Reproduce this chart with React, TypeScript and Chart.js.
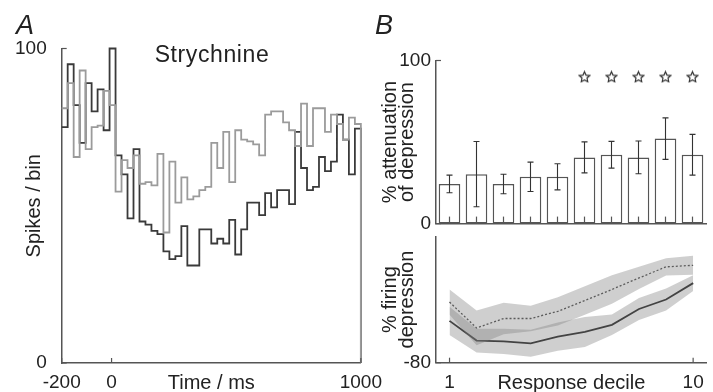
import React, { useEffect, useRef } from 'react';
import { Chart, registerables } from 'chart.js';

Chart.register(...registerables);

const FONT = '"Liberation Sans", Arial, Helvetica, sans-serif';
const TEXT = '#222';
const AXIS = '#555';

// ---------- Panel A: peri-stimulus histograms ----------
const HIST_START_MS = -200;
const HIST_END_MS = 1000;
const HIST_BIN_MS = 24;
const A_X_TICKS_SHOWN = [-200, 0, 1000];
const A_Y_TICKS_SHOWN = [0, 100];
const CONTROL_HIST = [
  75, 95, 82, 70, 89, 80, 87, 74, 100, 66,
  60, 46, 68, 45, 44, 42, 41, 35.5, 33, 34,
  43.5, 31, 31, 42.5, 42.5, 38, 39.5, 38, 45.5, 34.5,
  42.5, 51, 51, 47, 54, 49.5, 55, 55, 50.5, 73.5,
  62, 55, 56, 65.5, 61, 64, 79, 71, 60, 74.5,
];
const STRYCHNINE_HIST = [
  81, 89, 65.5, 93, 68, 75, 75.5, 86.5, 82, 54.5,
  64.5, 62, 66, 57, 57.5, 56.5, 66.5, 41.5, 64, 51,
  59, 52, 53, 55, 56, 70, 62, 73.5, 57.5, 74,
  71, 70.5, 69.5, 66, 79, 80, 80, 76.5, 74, 69,
  82.5, 69, 81, 81, 73.5, 79, 76, 71, 78, 76,
];

// ---------- Panel B ----------
const DECILES = ['1', '2', '3', '4', '5', '6', '7', '8', '9', '10'];
const DECILE_LABELS_SHOWN = ['1', '10'];
const ATTENUATION = [24.3, 30.3, 24.3, 28.7, 28.7, 40.6, 42.2, 40.6, 52.1, 42.2];
const ATTENUATION_ERR = [5.4, 20, 6, 9, 8, 9.5, 8.2, 10, 12.7, 12.5];
const SIGNIFICANT = [false, false, false, false, false, true, true, true, true, true];
const STAR_LEVEL = 90;
const B_TOP_TICKS_SHOWN = [0, 100];
const B_BOTTOM_TICKS_SHOWN = [-80];
const STRY_DEPRESSION = [-41.6, -58, -52, -52, -47.5, -40.6, -33.6, -26.3, -19.3, -18.3];
const STRY_SEM = [8, 11, 10, 8, 9, 9, 9, 7, 5.5, 6];
const CTRL_DEPRESSION = [-53.5, -66, -66.5, -67.7, -63.5, -60.5, -56, -46, -40, -29.6];
const CTRL_SEM = [9, 7.5, 8, 8.5, 9, 9.5, 6.5, 7, 7, 5];

const BAND = 'rgba(128,128,128,0.38)';

function histPoints(vals: number[]) {
  const pts = vals.map((v, i) => ({ x: HIST_START_MS + i * HIST_BIN_MS, y: v }));
  pts.push({ x: HIST_END_MS, y: vals[vals.length - 1] });
  pts.push({ x: HIST_END_MS, y: 0 });
  return pts;
}

const innerTicks = {
  id: 'innerTicks',
  afterDraw(chart: any, _a: any, opts: any) {
    const { ctx, chartArea } = chart;
    ctx.save();
    ctx.strokeStyle = AXIS;
    ctx.lineWidth = 1.2;
    (opts.axes || []).forEach((spec: any) => {
      const scale = chart.scales[spec.id];
      if (!scale) return;
      scale.ticks.forEach((_t: any, i: number) => {
        const p = scale.getPixelForTick(i);
        ctx.beginPath();
        if (scale.isHorizontal()) {
          ctx.moveTo(p, chartArea.bottom);
          ctx.lineTo(p, chartArea.bottom - spec.len);
        } else {
          ctx.moveTo(chartArea.left, p);
          ctx.lineTo(chartArea.left + spec.len, p);
        }
        ctx.stroke();
      });
    });
    ctx.restore();
  },
};

const errorBars = {
  id: 'errorBars',
  afterDatasetsDraw(chart: any) {
    const ds = chart.data.datasets[0];
    const meta = chart.getDatasetMeta(0);
    const y = chart.scales.y;
    const ctx = chart.ctx;
    ctx.save();
    ctx.strokeStyle = '#333';
    ctx.lineWidth = 1.1;
    meta.data.forEach((bar: any, i: number) => {
      const v = ds.data[i];
      const e = ds.errors[i];
      const top = y.getPixelForValue(v + e);
      const bot = y.getPixelForValue(v - e);
      ctx.beginPath();
      ctx.moveTo(bar.x, top);
      ctx.lineTo(bar.x, bot);
      ctx.moveTo(bar.x - 3, top);
      ctx.lineTo(bar.x + 3, top);
      ctx.moveTo(bar.x - 3, bot);
      ctx.lineTo(bar.x + 3, bot);
      ctx.stroke();
    });
    ctx.restore();
  },
};

function makeStar(size: number): HTMLCanvasElement {
  const c = document.createElement('canvas');
  c.width = size;
  c.height = size;
  const g = c.getContext('2d')!;
  const cx = size / 2, cy = size / 2 + 0.5, R = size / 2 - 1, r = R * 0.48;
  g.beginPath();
  for (let k = 0; k < 10; k++) {
    const ang = -Math.PI / 2 + (k * Math.PI) / 5;
    const rad = k % 2 === 0 ? R : r;
    g.lineTo(cx + rad * Math.cos(ang), cy + rad * Math.sin(ang));
  }
  g.closePath();
  g.fillStyle = '#fff';
  g.fill();
  g.strokeStyle = '#333';
  g.lineWidth = 1.2;
  g.stroke();
  return c;
}

const tickFont = { family: FONT, size: 19 };
const titleFont = { family: FONT, size: 20, lineHeight: 1 };

const A_W = 390, A_H = 392;
const B1_W = 353, B1_H = 240;
const B2_W = 353, B2_H = 172;

export default function App() {
  const aRef = useRef<HTMLCanvasElement>(null);
  const b1Ref = useRef<HTMLCanvasElement>(null);
  const b2Ref = useRef<HTMLCanvasElement>(null);

  useEffect(() => {
    const charts: Chart[] = [];
    const common = {
      animation: false as const,
      responsive: false,
      events: [] as any[],
    };

    charts.push(
      new Chart(aRef.current!, {
        type: 'line',
        data: {
          datasets: [
            {
              label: 'Strychnine',
              data: histPoints(STRYCHNINE_HIST),
              borderColor: '#9b9b9b',
              borderWidth: 1.8,
              stepped: 'before',
              pointRadius: 0,
              fill: false,
              clip: 4,
            },
            {
              label: 'Control',
              data: histPoints(CONTROL_HIST),
              borderColor: '#3a3a3a',
              borderWidth: 1.8,
              stepped: 'before',
              pointRadius: 0,
              fill: false,
              clip: 4,
            },
          ],
        } as any,
        options: {
          ...common,
          layout: { padding: { left: 0, top: 48.5, right: A_W - 361.7, bottom: 0 } },
          plugins: {
            legend: { display: false },
            tooltip: { enabled: false },
            innerTicks: { axes: [{ id: 'x', len: 5 }, { id: 'y', len: 5 }] },
          } as any,
          scales: {
            x: {
              type: 'linear',
              min: HIST_START_MS,
              max: HIST_END_MS,
              afterFit: (s: any) => { s.height = A_H - 363; },
              grid: { display: false, drawTicks: false },
              border: { display: true, color: AXIS, width: 1.5 },
              ticks: {
                stepSize: 200,
                autoSkip: false,
                maxRotation: 0,
                padding: 8,
                color: TEXT,
                font: tickFont,
                callback: (v: any) => (A_X_TICKS_SHOWN.includes(Number(v)) ? String(v) : null),
              },
              title: { display: true, text: 'Time / ms', color: TEXT, font: titleFont, padding: { top: 0, bottom: -1 } },
            },
            y: {
              min: 0,
              max: 100,
              afterFit: (s: any) => { s.width = 61.7; },
              grid: { display: false, drawTicks: false },
              border: { display: true, color: AXIS, width: 1.5 },
              ticks: {
                stepSize: 20,
                autoSkip: false,
                padding: 15,
                color: TEXT,
                font: tickFont,
                callback: (v: any) => (A_Y_TICKS_SHOWN.includes(Number(v)) ? String(v) : null),
              },
              title: { display: true, text: 'Spikes / bin', color: TEXT, font: { family: FONT, size: 20, lineHeight: 1.2 }, padding: { top: 22, bottom: 0 } },
            },
          },
          elements: { line: { tension: 0 } },
        } as any,
        plugins: [innerTicks],
      })
    );

    const star = makeStar(13);
    charts.push(
      new Chart(b1Ref.current!, {
        type: 'bar',
        data: {
          labels: DECILES,
          datasets: [
            {
              type: 'bar',
              label: '% attenuation',
              data: ATTENUATION,
              errors: ATTENUATION_ERR,
              backgroundColor: '#ffffff',
              borderColor: '#555',
              borderWidth: 1.5,
              borderSkipped: false,
              barPercentage: 0.8,
              categoryPercentage: 1,
            },
            {
              type: 'line',
              label: 'significant',
              data: SIGNIFICANT.map((s) => (s ? STAR_LEVEL : null)),
              showLine: false,
              pointStyle: star,
              pointRadius: 6,
            },
          ],
        } as any,
        options: {
          ...common,
          layout: { padding: { left: 0, top: 60.5, right: 6, bottom: 0 } },
          plugins: {
            legend: { display: false },
            tooltip: { enabled: false },
            innerTicks: { axes: [{ id: 'x', len: 7 }, { id: 'y', len: 5 }] },
          } as any,
          scales: {
            x: {
              afterFit: (s: any) => { s.height = B1_H - 228; },
              grid: { display: false, drawTicks: false },
              border: { display: true, color: AXIS, width: 1.5 },
              ticks: { display: false, autoSkip: false },
            },
            y: {
              min: 0,
              max: 100,
              afterFit: (s: any) => { s.width = 76; },
              grid: { display: false, drawTicks: false },
              border: { display: true, color: AXIS, width: 1.5 },
              ticks: {
                stepSize: 20,
                autoSkip: false,
                padding: 5,
                color: TEXT,
                font: tickFont,
                callback: (v: any) => (B_TOP_TICKS_SHOWN.includes(Number(v)) ? String(v) : null),
              },
              title: {
                display: true,
                text: ['% attenuation', 'of depression'],
                color: TEXT,
                font: { family: FONT, size: 20, lineHeight: 0.85 },
                padding: { top: 21.5, bottom: 0 },
              },
            },
          },
        } as any,
        plugins: [innerTicks, errorBars],
      })
    );

    charts.push(
      new Chart(b2Ref.current!, {
        type: 'line',
        data: {
          labels: DECILES,
          datasets: [
            {
              label: 'strychnine upper',
              data: STRY_DEPRESSION.map((m, i) => m + STRY_SEM[i]),
              borderColor: 'transparent',
              borderWidth: 0,
              backgroundColor: BAND,
              fill: '+1',
              pointRadius: 0,
            },
            {
              label: 'strychnine lower',
              data: STRY_DEPRESSION.map((m, i) => m - STRY_SEM[i]),
              borderColor: 'transparent',
              borderWidth: 0,
              fill: false,
              pointRadius: 0,
            },
            {
              label: 'control upper',
              data: CTRL_DEPRESSION.map((m, i) => m + CTRL_SEM[i]),
              borderColor: 'transparent',
              borderWidth: 0,
              backgroundColor: BAND,
              fill: '+1',
              pointRadius: 0,
            },
            {
              label: 'control lower',
              data: CTRL_DEPRESSION.map((m, i) => m - CTRL_SEM[i]),
              borderColor: 'transparent',
              borderWidth: 0,
              fill: false,
              pointRadius: 0,
            },
            {
              label: 'strychnine',
              data: STRY_DEPRESSION,
              borderColor: '#444',
              borderWidth: 1.3,
              borderDash: [2, 2],
              fill: false,
              pointRadius: 0,
            },
            {
              label: 'control',
              data: CTRL_DEPRESSION,
              borderColor: '#1e1e1e',
              borderWidth: 1.8,
              fill: false,
              pointRadius: 0,
            },
          ],
        } as any,
        options: {
          ...common,
          layout: { padding: { left: 0, top: 8.7, right: 6, bottom: 0 } },
          plugins: {
            legend: { display: false },
            tooltip: { enabled: false },
            innerTicks: { axes: [{ id: 'x', len: 5 }, { id: 'y', len: 5 }] },
          } as any,
          scales: {
            x: {
              offset: true,
              afterFit: (s: any) => { s.height = 29.3; },
              grid: { display: false, drawTicks: false, offset: true },
              border: { display: true, color: AXIS, width: 1.5 },
              ticks: {
                autoSkip: false,
                maxRotation: 0,
                padding: 9,
                color: TEXT,
                font: tickFont,
                callback: function (this: any, v: any) {
                  const lab = this.getLabelForValue(v);
                  return DECILE_LABELS_SHOWN.includes(lab) ? lab : null;
                },
              },
              title: { display: true, text: 'Response decile', color: TEXT, font: titleFont, padding: { top: 0, bottom: -1 } },
            },
            y: {
              min: -80,
              max: 0,
              afterFit: (s: any) => { s.width = 76; },
              grid: { display: false, drawTicks: false },
              border: { display: true, color: AXIS, width: 1.5 },
              ticks: {
                stepSize: 20,
                autoSkip: false,
                padding: 5,
                color: TEXT,
                font: tickFont,
                callback: (v: any) => (B_BOTTOM_TICKS_SHOWN.includes(Number(v)) ? String(v) : null),
              },
              title: {
                display: true,
                text: ['% firing', 'depression'],
                color: TEXT,
                font: { family: FONT, size: 20, lineHeight: 0.85 },
                padding: { top: 21.5, bottom: 0 },
              },
            },
          },
          elements: { line: { tension: 0 } },
        } as any,
        plugins: [innerTicks],
      })
    );

    return () => charts.forEach((c) => c.destroy());
  }, []);

  const abs = (l: number, t: number, w: number, h: number): React.CSSProperties => ({
    position: 'absolute', left: l, top: t, width: w, height: h,
  });

  return (
    <div style={{ position: 'absolute', left: 0, top: 0, width: 713, height: 392, background: '#fff', overflow: 'hidden', fontFamily: FONT, color: TEXT }}>
      <canvas ref={aRef} width={A_W} height={A_H} style={abs(0, 0, A_W, A_H)} />
      <canvas ref={b1Ref} width={B1_W} height={B1_H} style={abs(360, 0, B1_W, B1_H)} />
      <canvas ref={b2Ref} width={B2_W} height={B2_H} style={abs(360, 220, B2_W, B2_H)} />
      <div style={{ position: 'absolute', left: 16, top: 12, fontSize: 27, lineHeight: 1, fontStyle: 'italic' }}>A</div>
      <div style={{ position: 'absolute', left: 375, top: 12, fontSize: 27, lineHeight: 1, fontStyle: 'italic' }}>B</div>
      <div style={{ position: 'absolute', left: 212, top: 43, fontSize: 23, lineHeight: 1, transform: 'translateX(-50%)', whiteSpace: 'nowrap', letterSpacing: 0.6 }}>Strychnine</div>
    </div>
  );
}
